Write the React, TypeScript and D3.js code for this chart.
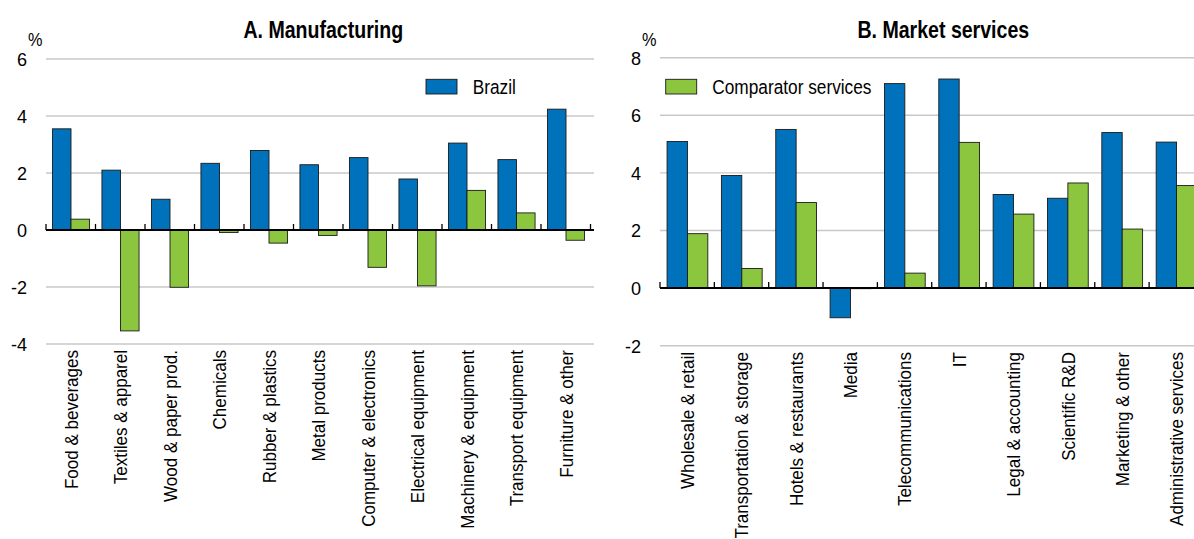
import React from 'react';
import * as d3 from 'd3';

const mfgCategories = [
  'Food & beverages', 'Textiles & apparel', 'Wood & paper prod.', 'Chemicals',
  'Rubber & plastics', 'Metal products', 'Computer & electronics',
  'Electrical equipment', 'Machinery & equipment', 'Transport equipment', 'Furniture & other',
];
const mfgBrazil = [3.55, 2.1, 1.08, 2.34, 2.79, 2.29, 2.54, 1.79, 3.05, 2.47, 4.24];
const mfgComparator = [0.38, -3.54, -2.01, -0.09, -0.46, -0.19, -1.31, -1.96, 1.39, 0.6, -0.36];
const mfgTicks = [-4, -2, 0, 2, 4, 6];

const svcCategories = [
  'Wholesale & retail', 'Transportation & storage', 'Hotels & restaurants', 'Media',
  'Telecommunications', 'IT', 'Legal & accounting', 'Scientific R&D',
  'Marketing & other', 'Administrative services',
];
const svcBrazil = [5.09, 3.91, 5.51, -1.03, 7.1, 7.26, 3.25, 3.12, 5.4, 5.07];
const svcComparator = [1.89, 0.68, 2.97, -0.02, 0.52, 5.06, 2.57, 3.65, 2.05, 3.56];
const svcTicks = [-2, 0, 2, 4, 6, 8];

const BLUE = '#0072bb';
const GREEN = '#8cc63f';
const FONT = '"Liberation Sans", Arial, sans-serif';

type TProps = {
  x: number; y: number; sx?: number; rot?: number; size: number;
  anchor?: 'start' | 'middle' | 'end'; dy?: string; bold?: boolean; children: React.ReactNode;
};
function SText({ x, y, sx = 1, rot = 0, size, anchor = 'start', dy, bold, children }: TProps) {
  return (
    <g transform={`translate(${x},${y}) rotate(${rot}) scale(${sx},1)`}>
      <text
        textAnchor={anchor}
        dy={dy}
        fontFamily={FONT}
        fontSize={size}
        fontWeight={bold ? 'bold' : 'normal'}
        fill="#000"
      >
        {children}
      </text>
    </g>
  );
}

type PanelProps = {
  title: string; titleX: number;
  categories: string[]; brazil: number[]; comparator: number[]; ticks: number[];
  xRange: [number, number]; yDomain: [number, number]; yRange: [number, number];
  labelTop: number; pctX: number; legend: { label: string; color: string; x: number; tx: number };
};

function Panel(p: PanelProps) {
  const x = d3.scaleBand<string>().domain(p.categories).range(p.xRange)
    .paddingInner(0.25).paddingOuter(0.13);
  const x1 = d3.scaleBand<string>().domain(['brazil', 'comp']).range([0, x.bandwidth()]);
  const y = d3.scaleLinear().domain(p.yDomain).range(p.yRange);
  const step = x.step();
  const n = p.categories.length;
  const boundaries = d3.range(n + 1).map((i) => p.xRange[0] + i * step);
  const bar = (v: number) => ({ y: Math.min(y(v), y(0)), h: Math.abs(y(v) - y(0)) });
  return (
    <g>
      <SText x={p.titleX} y={37.7} size={24} sx={0.815} anchor="middle" bold>{p.title}</SText>
      <SText x={p.pctX} y={45.5} size={18.5} sx={0.88}>%</SText>
      {p.ticks.map((t) => (
        <g key={t}>
          {t !== 0 && (
            <line x1={p.xRange[0]} x2={p.xRange[1] + 3} y1={y(t)} y2={y(t)} stroke="#c8c8c8" strokeWidth={1.4} />
          )}
          <SText x={p.xRange[0] - 19} y={y(t)} size={19} sx={0.95} anchor="end" dy="0.36em">{String(t)}</SText>
        </g>
      ))}
      {p.categories.map((c, i) => {
        const b = bar(p.brazil[i]);
        const g = bar(p.comparator[i]);
        return (
          <g key={c}>
            <rect x={(x(c) as number) + (x1('brazil') as number)} y={b.y} width={x1.bandwidth()} height={b.h}
              fill={BLUE} stroke="#1a1a1a" strokeWidth={0.9} />
            <rect x={(x(c) as number) + (x1('comp') as number)} y={g.y} width={x1.bandwidth()} height={g.h}
              fill={GREEN} stroke="#1a1a1a" strokeWidth={0.9} />
          </g>
        );
      })}
      <line x1={p.xRange[0]} x2={p.xRange[1] + 3} y1={y(0)} y2={y(0)} stroke="#000" strokeWidth={2} />
      {boundaries.map((bx, i) => (
        <line key={i} x1={bx} x2={bx} y1={y(0)} y2={y(0) - 6} stroke="#000" strokeWidth={1.3} />
      ))}
      {p.categories.map((c) => (
        <SText key={c} x={(x(c) as number) + x.bandwidth() / 2} y={p.labelTop} rot={-90} size={18.5} sx={0.92}
          anchor="end" dy="0.36em">{c}</SText>
      ))}
      <rect x={p.legend.x} y={79.3} width={31} height={14.7} fill={p.legend.color} stroke="#1a1a1a" strokeWidth={0.9} />
      <SText x={p.legend.tx} y={93.5} size={19.5} sx={0.885}>{p.legend.label}</SText>
    </g>
  );
}

export default function App() {
  return (
    <svg width={1194} height={539} style={{ position: 'absolute', left: 0, top: 0, background: '#fff' }}>
      <rect width={1194} height={539} fill="#fff" />
      <Panel
        title="A. Manufacturing" titleX={323.3}
        categories={mfgCategories} brazil={mfgBrazil} comparator={mfgComparator} ticks={mfgTicks}
        xRange={[46, 591]} yDomain={[-4, 6]} yRange={[344, 59]} labelTop={350} pctX={28}
        legend={{ label: 'Brazil', color: BLUE, x: 426, tx: 472.7 }}
      />
      <Panel
        title="B. Market services" titleX={943.3}
        categories={svcCategories} brazil={svcBrazil} comparator={svcComparator} ticks={svcTicks}
        xRange={[660, 1204]} yDomain={[-2, 8]} yRange={[345.7, 57.7]} labelTop={352} pctX={642}
        legend={{ label: 'Comparator services', color: GREEN, x: 665.7, tx: 712.3 }}
      />
    </svg>
  );
}
